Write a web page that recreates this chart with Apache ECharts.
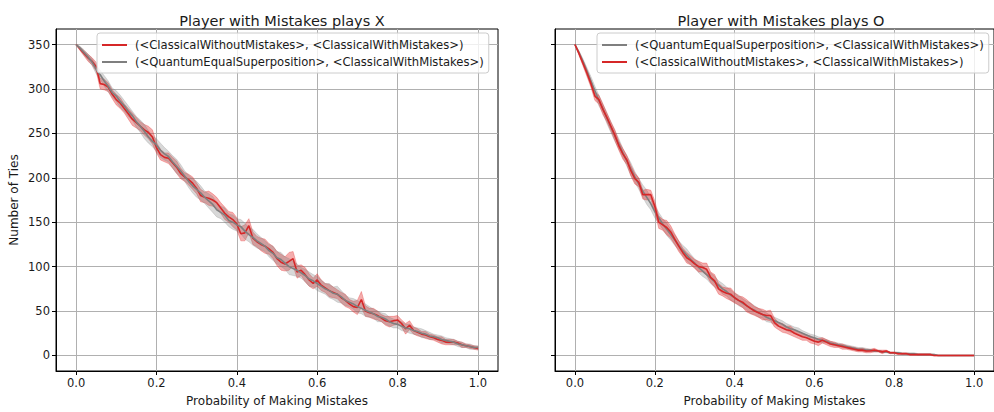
<!DOCTYPE html>
<html>
<head>
<meta charset="utf-8">
<script src="https://cdn.jsdelivr.net/npm/echarts@6/dist/echarts.min.js"></script>
<style>
html, body { margin: 0; padding: 0; background: #fff; }
#chart { width: 994px; height: 412px; }
</style>
</head>
<body>
<div id="chart"></div>
<script>
// probabilities 0.00 .. 1.00
var probs = Array.from({length: 101}, (_, i) => i / 100);
var xTicks = [0, 0.2, 0.4, 0.6, 0.8, 1.0];
var yTicks = [0, 50, 100, 150, 200, 250, 300, 350];

var nameRed = '(<ClassicalWithoutMistakes>, <ClassicalWithMistakes>)';
var nameGray = '(<QuantumEqualSuperposition>, <ClassicalWithMistakes>)';

// plays X
var xRed = [350,345,340,335,331,325,306,305,302,294,
  288,284,278,272,266,262,258,254,251,246,
  234,226,223,222,217,212,205,201,198,194,
  188,180,178,177,175,172,166,160,156,153,
  148,137,138,146,132,128,125,123,120,116,
  109,105,103,106,109,94,96,91,85,81,
  85,79,76,73,71,69,65,62,58,55,
  54,63,50,48,47,45,42,39,38,39,
  40,36,30,34,28,26,24,23,21,20,
  18,17,15,15,15,14,12,11,10,9,
  8];
var xRedSpread = [0,2,3,4,4,5,6,6,5,5,
  6,6,5,6,7,6,5,6,7,8,
  6,6,5,6,6,7,6,5,6,7,
  6,7,6,8,7,6,6,7,6,8,
  7,8,9,8,7,6,7,8,6,7,
  8,9,8,10,8,7,6,8,7,6,
  7,6,5,7,6,5,6,7,5,6,
  8,9,6,5,6,5,4,5,6,5,
  5,4,6,5,4,4,3,4,3,3,
  3,4,3,3,3,2,3,2,2,2,
  2];
var xGray = [350,346,341,336,330,322,316,309,303,296,
  292,286,281,275,270,263,258,252,246,241,
  237,231,227,224,218,213,208,202,196,191,
  187,183,178,174,170,164,161,158,152,150,
  147,145,140,136,133,129,126,123,118,115,
  110,108,104,100,98,96,93,90,86,84,
  81,78,75,73,70,69,66,62,60,58,
  55,53,51,49,47,44,43,41,38,36,
  35,33,31,30,28,27,25,24,22,21,
  20,18,17,16,15,13,12,11,10,9,
  9];
var xGraySpread = [0,2,3,3,4,5,5,6,6,5,
  6,7,6,6,5,6,7,8,7,6,
  7,8,7,6,7,8,7,6,7,8,
  9,8,7,8,9,8,7,8,7,8,
  7,8,9,8,9,8,7,6,7,8,
  7,8,7,9,8,7,6,7,8,7,
  8,7,6,8,7,9,7,6,5,6,
  7,6,7,6,5,6,5,6,5,5,
  4,5,4,5,4,4,5,4,4,3,
  3,4,3,3,3,3,3,2,3,2,
  2];

// plays O
var oRed = [350,340,329,318,306,292,288,277,268,258,
  248,236,227,220,208,199,195,181,181,181,
  168,150,147,144,139,131,123,116,110,107,
  103,100,99,97,88,84,75,72,70,69,
  65,62,60,56,53,50,48,46,45,45,
  37,33,31,29,28,25,23,21,20,18,
  16,15,17,15,13,12,11,10,9,8,
  7,6,6,5,5,6,5,4,5,3,
  3,2,2,2,1,1,1,1,1,1,
  0,0,0,0,0,0,0,0,0,0,
  0];
var oRedSpread = [0,2,3,4,4,5,5,6,5,5,
  6,5,6,5,6,6,5,5,6,5,
  6,7,6,8,7,6,6,5,6,5,
  5,6,5,7,6,7,6,5,6,7,
  6,5,6,7,6,5,5,6,5,6,
  5,4,5,4,5,4,4,4,3,4,
  3,4,3,3,3,3,2,3,2,2,
  2,2,2,2,2,2,1,2,1,1,
  1,1,1,1,1,1,1,1,1,1,
  0.5,0.5,0.5,0.5,0.5,0.5,0.5,0.5,0.5,0.5,
  0.5];
var oGray = [350,341,331,320,309,298,287,278,267,257,
  247,238,228,219,210,201,193,185,178,171,
  162,155,148,142,136,130,124,118,113,108,
  104,99,95,91,87,83,79,75,72,68,
  65,62,59,56,53,51,48,46,43,41,
  39,37,35,32,30,29,27,25,23,21,
  20,18,17,16,14,13,12,11,10,9,
  8,7,7,6,6,5,5,4,4,3,
  3,3,2,2,2,2,1,1,1,1,
  1,0,0,0,0,0,0,0,0,0,
  0];
var oGraySpread = [0,2,3,4,5,5,6,5,6,6,
  6,6,5,6,7,6,6,7,8,7,
  7,6,6,7,6,6,5,6,7,6,
  5,6,6,5,6,6,5,6,5,6,
  5,6,5,5,6,5,5,4,5,4,
  4,4,4,4,4,3,4,3,3,3,
  3,3,3,2,2,2,2,2,2,2,
  2,2,2,2,1,1,1,1,1,1,
  1,1,1,1,1,1,1,1,1,1,
  0.5,0.5,0.5,0.5,0.5,0.5,0.5,0.5,0.5,0.5,
  0.5];

var red = '#d62728';
var gray = '#7f7f7f';
var redBand = 'rgba(226,40,40,0.38)';
var grayBand = 'rgba(127,127,127,0.3)';
var ink = '#1a1a1a';
var font = 'DejaVu Sans';

function lineSeries(name, vals, color, gi) {
  return {
    name: name, type: 'line', xAxisIndex: gi, yAxisIndex: gi,
    data: probs.map((p, i) => [p, vals[i]]),
    symbol: 'none', silent: true,
    lineStyle: { color: color, width: 1.6 },
    itemStyle: { color: color }
  };
}

// shaded band (mean +/- spread) drawn as one polygon
function bandSeries(vals, spread, fill, gi) {
  var rows = probs.map((p, i) => [p, vals[i] - spread[i], vals[i] + spread[i]]);
  return {
    type: 'custom', xAxisIndex: gi, yAxisIndex: gi, silent: true,
    data: rows, encode: { x: 0, y: [1, 2] },
    renderItem: function(params, api) {
      if (params.dataIndex !== 0) return null;
      var top = rows.map(r => api.coord([r[0], r[2]]));
      var bottom = rows.slice().reverse().map(r => api.coord([r[0], r[1]]));
      return { type: 'polygon', shape: { points: top.concat(bottom) },
        style: { fill: fill, stroke: fill, lineWidth: 0.8 } };
    }
  };
}

function xAxisFor(gi) {
  return {
    type: 'value', gridIndex: gi, min: -0.05, max: 1.05,
    name: 'Probability of Making Mistakes', nameLocation: 'middle', nameGap: 24,
    nameTextStyle: { color: ink, fontFamily: font, fontSize: 12 },
    axisLine: { show: true, onZero: false, lineStyle: { color: '#000', width: 1 } },
    axisTick: { show: true, length: 4, customValues: xTicks, lineStyle: { color: '#000' } },
    axisLabel: { customValues: xTicks, color: ink, fontFamily: font, fontSize: 11.5, margin: 6,
      formatter: function(v) { return v.toFixed(1); } },
    splitLine: { show: true, lineStyle: { color: '#b0b0b0', width: 1 } }
  };
}

function yAxisFor(gi) {
  return {
    type: 'value', gridIndex: gi, min: -17.5, max: 367.5,
    name: gi === 0 ? 'Number of Ties' : '', nameLocation: 'middle', nameGap: 36,
    nameTextStyle: { color: ink, fontFamily: font, fontSize: 12 },
    axisLine: { show: true, onZero: false, lineStyle: { color: '#000', width: 1 } },
    axisTick: { show: true, length: 4, customValues: yTicks, lineStyle: { color: '#000' } },
    axisLabel: { show: gi === 0, customValues: yTicks, color: ink, fontFamily: font, fontSize: 11.5, margin: 6 },
    splitLine: { show: true, lineStyle: { color: '#b0b0b0', width: 1 } }
  };
}

function legendFor(left, names) {
  return {
    data: names.map(n => ({ name: n, icon: 'rect' })),
    orient: 'vertical', left: left, top: 33,
    itemWidth: 25, itemHeight: 2, itemGap: 3,
    padding: [5, 5, 4, 5],
    backgroundColor: 'rgba(255,255,255,0.8)',
    borderColor: '#cccccc', borderWidth: 1, borderRadius: 3,
    selectedMode: false,
    textStyle: { color: ink, fontFamily: font, fontSize: 11.6, lineHeight: 14, padding: [0, 0, 0, 3] }
  };
}

var chart = echarts.init(document.getElementById('chart'), null, { renderer: 'svg' });
chart.setOption({
  animation: false,
  backgroundColor: '#fff',
  title: [
    { text: 'Player with Mistakes plays X', left: 277, top: 8, textAlign: 'center',
      textStyle: { color: ink, fontFamily: font, fontSize: 14.5, fontWeight: 'normal' } },
    { text: 'Player with Mistakes plays O', left: 776, top: 8, textAlign: 'center',
      textStyle: { color: ink, fontFamily: font, fontSize: 14.5, fontWeight: 'normal' } }
  ],
  legend: [
    legendFor(97, [nameRed, nameGray]),
    legendFor(597, [nameGray, nameRed])
  ],
  grid: [
    { left: 56, top: 29, width: 442, height: 344, show: true, borderColor: '#000', borderWidth: 1, backgroundColor: 'transparent' },
    { left: 555, top: 29, width: 442, height: 344, show: true, borderColor: '#000', borderWidth: 1, backgroundColor: 'transparent' }
  ],
  xAxis: [xAxisFor(0), xAxisFor(1)],
  yAxis: [yAxisFor(0), yAxisFor(1)],
  series: [
    lineSeries(nameRed, xRed, red, 0),
    bandSeries(xRed, xRedSpread, redBand, 0),
    lineSeries(nameGray, xGray, gray, 0),
    bandSeries(xGray, xGraySpread, grayBand, 0),
    lineSeries(nameGray, oGray, gray, 1),
    bandSeries(oGray, oGraySpread, grayBand, 1),
    lineSeries(nameRed, oRed, red, 1),
    bandSeries(oRed, oRedSpread, redBand, 1)
  ]
});
window.addEventListener('resize', function() { chart.resize(); });
</script>
</body>
</html>
